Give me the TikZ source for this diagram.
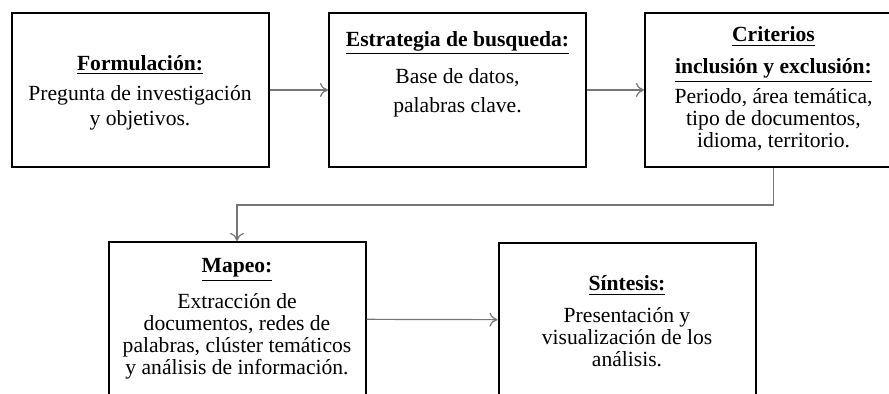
\documentclass[tikz,border=0pt]{standalone}
\usepackage{fontspec}
\setmainfont{Liberation Serif}
\usetikzlibrary{arrows.meta}
\definecolor{linkgray}{RGB}{118,118,118}
\newcommand{\phasetitle}[1]{\underline{\textbf{#1}}}

\begin{document}
\begin{tikzpicture}[x=0.5pt,y=0.5pt]
\tikzset{phase/.style={draw,line width=1pt,minimum width=128.5pt,minimum height=77pt,inner sep=0pt},
  phasetext/.style={align=center,inner sep=0pt,font=\fontsize{10.8}{11}\selectfont},
  link/.style={draw=linkgray,line width=0.6pt,-{To[length=4pt,width=7pt]}}}
\clip (0,0) rectangle (889,-394);
% boxes
\node [phase] (form) at (140,-90) {};
\node [phase] (estr) at (457.5,-90) {};
\node [phase] (crit) at (773.5,-90) {};
\node [phase] (mapeo) at (237,-319) {};
\node [phase] (sint) at (627,-320) {};
% texts
\node [phasetext] (form-t) at (140,-92.5) {\phasetitle{Formulación:}\\[4pt]
  Pregunta de investigación\\[1.5pt] y objetivos.};
\node [phasetext] (estr-t) at (457.5,-74) {\phasetitle{Estrategia de busqueda:}\\[5.5pt]
  Base de datos,\\[3.5pt] palabras clave.};
\node [phasetext] (crit-t) at (773.5,-89) {\phasetitle{Criterios}\\[5pt]
  \phasetitle{inclusión y exclusión:}\\[2pt] Periodo, área temática,\\
  tipo de documentos,\\ idioma, territorio.};
\node [phasetext] (mapeo-t) at (237,-319) {\phasetitle{Mapeo:}\\[5pt]
  Extracción de\\ documentos, redes de\\ palabras, clúster temáticos\\
  y análisis de información.};
\node [phasetext] (sint-t) at (627,-321.5) {\phasetitle{Síntesis:}\\[5pt]
  Presentación y\\ visualización de los\\ análisis.};
% connectors
\coordinate (turn) at (773.5,-205);
\draw [link] (form) -- (estr);
\draw [link] (estr) -- (crit);
\draw [link] (crit.south) -- (turn) -| (mapeo.north);
\draw [link] (mapeo) -- (sint);
\end{tikzpicture}
\end{document}
